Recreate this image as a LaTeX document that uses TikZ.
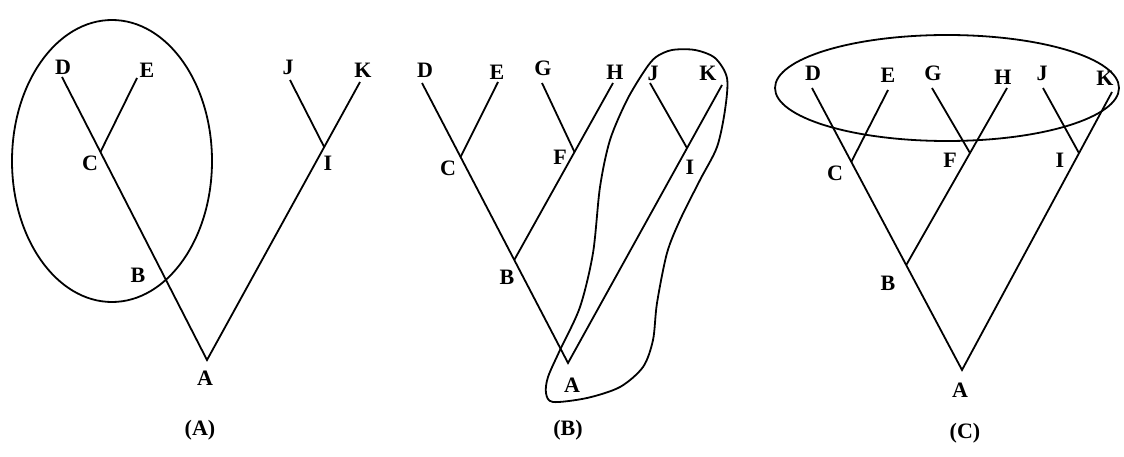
\documentclass[tikz,border=0pt]{standalone}
\usepackage{fontspec}
\setmainfont{Liberation Serif}
\usetikzlibrary{calc}
\tikzset{
  branch/.style={line width=1.8pt},
  ring/.style={line width=1.8pt},
  lab/.style={inner sep=0pt,font=\fontsize{22}{26}\selectfont\bfseries},
}

\begin{document}
\begin{tikzpicture}[x=1pt,y=-1pt]
  \useasboundingbox (0,0) rectangle (1124,457);
  % tree (A)
  \coordinate (aD) at (62,77);
  \coordinate (aE) at (137,78);
  \coordinate (aJ) at (290,80);
  \coordinate (aK) at (360,82);
  \coordinate (aA) at (207,360);
  \coordinate (aC) at ($(aD)!0.265!(aA)$);
  \coordinate (aB) at ($(aD)!0.707!(aA)$);
  \coordinate (aI) at ($(aA)!0.766!(aK)$);
  \draw[branch] (aD) -- (aC) -- (aB) -- (aA) -- (aI) -- (aK);
  \draw[branch] (aE) -- (aC);
  \draw[branch] (aJ) -- (aI);
  \foreach \n/\x/\y in {D/63/67,E/147/70,C/90/163,B/138/275,A/205/378,I/328/163,J/288/67,K/363/70}{
    \node[lab] (a\n-l) at (\x,\y) {\n};
  }
  \node[lab] (capA) at (200,430) {(A)};
  \draw[ring] (112,161) ellipse (100 and 141);

  % tree (B)
  \coordinate (bD) at (422,83);
  \coordinate (bE) at (498,82);
  \coordinate (bG) at (542,83);
  \coordinate (bH) at (613,83);
  \coordinate (bJ) at (650,83);
  \coordinate (bK) at (722,85);
  \coordinate (bA) at (568,363);
  \coordinate (bC) at ($(bD)!0.264!(bA)$);
  \coordinate (bB) at ($(bD)!0.632!(bA)$);
  \coordinate (bF) at ($(bH)!0.39!(bB)$);
  \coordinate (bI) at ($(bA)!0.773!(bK)$);
  \draw[branch] (bD) -- (bC) -- (bB) -- (bA) -- (bI) -- (bK);
  \draw[branch] (bE) -- (bC);
  \draw[branch] (bH) -- (bF) -- (bB);
  \draw[branch] (bG) -- (bF);
  \draw[branch] (bJ) -- (bI);
  \foreach \n/\x/\y in {D/425/70,E/497/72,G/543/68,H/615/72,J/653/73,K/708/73,C/448/168,F/560/157,I/690/167,B/507/277,A/572/385}{
    \node[lab] (b\n-l) at (\x,\y) {\n};
  }
  \node[lab] (capB) at (568,430) {(B)};
  \draw[ring] plot[smooth cycle] coordinates {(672,50) (695,50) (715,58) (727,78) (725,110)
    (717,147) (700,180) (680,220) (667,253) (657,303) (653,340) (643,367) (620,387)
    (587,398) (553,402) (546,393) (548,377) (560,350) (580,307) (593,253) (600,187)
    (610,140) (627,100) (645,70) (656,57)};

  % tree (C)
  \coordinate (cD) at (812,88);
  \coordinate (cE) at (888,90);
  \coordinate (cG) at (932,88);
  \coordinate (cH) at (1007,88);
  \coordinate (cJ) at (1043,88);
  \coordinate (cK) at (1112,92);
  \coordinate (cA) at (962,370);
  \coordinate (cC) at ($(cD)!0.262!(cA)$);
  \coordinate (cB) at ($(cD)!0.628!(cA)$);
  \coordinate (cF) at ($(cH)!0.367!(cB)$);
  \coordinate (cI) at ($(cA)!0.78!(cK)$);
  \draw[branch] (cD) -- (cC) -- (cB) -- (cA) -- (cI) -- (cK);
  \draw[branch] (cE) -- (cC);
  \draw[branch] (cH) -- (cF) -- (cB);
  \draw[branch] (cG) -- (cF);
  \draw[branch] (cJ) -- (cI);
  \foreach \n/\x/\y in {D/813/73,E/888/75,G/933/73,H/1003/77,J/1042/73,K/1105/78,C/835/173,F/950/160,I/1060/160,B/888/283,A/960/390}{
    \node[lab] (c\n-l) at (\x,\y) {\n};
  }
  \node[lab] (capC) at (965,433) {(C)};
  \draw[ring] (947,88) ellipse (172 and 53);
\end{tikzpicture}
\end{document}
